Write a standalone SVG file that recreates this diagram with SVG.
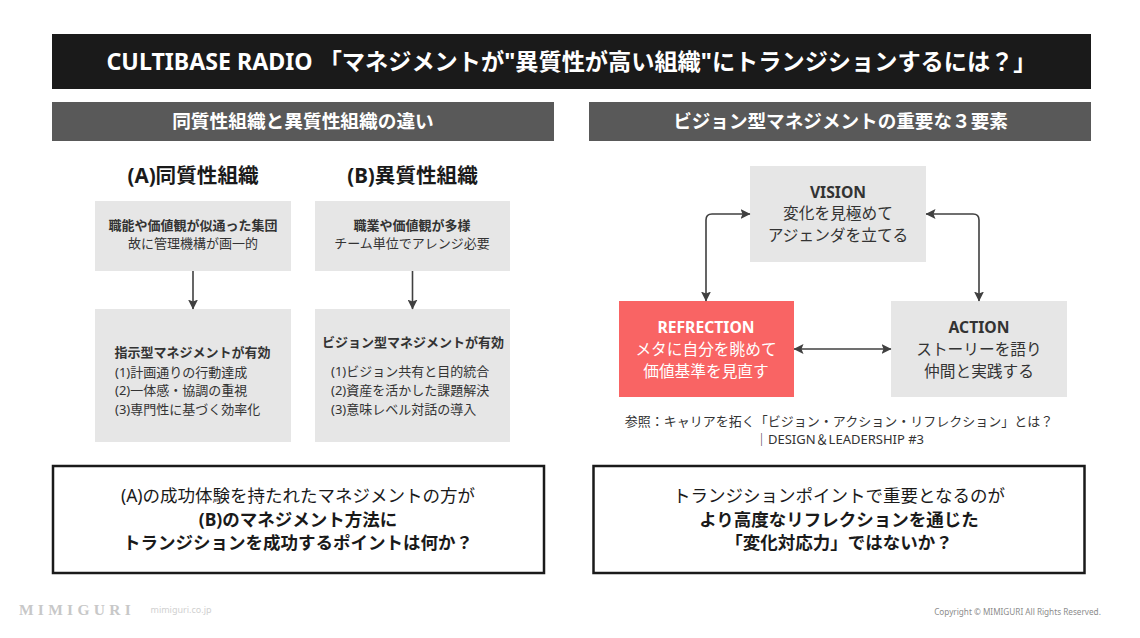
<svg xmlns="http://www.w3.org/2000/svg" width="1140" height="638" viewBox="0 0 1140 638">
<defs>
<marker id="ah" viewBox="0 0 10 10" refX="9.5" refY="5" markerWidth="10" markerHeight="10" markerUnits="userSpaceOnUse" orient="auto-start-reverse"><path d="M0 0L10 5L0 10L2 5Z" fill="#404040"/></marker>
</defs>
<style>
text{font-family:"Noto Sans","Noto Sans CJK JP",sans-serif;text-anchor:middle;fill:#333}
.b{font-weight:700}
.w{fill:#fff}
.t{font-size:13px}
.m{font-size:15.7px}
.g{fill:#e6e6e6}
.q{font-size:17.5px;fill:#1a1a1a}
.f{fill:#fff;stroke:#1a1a1a;stroke-width:2.5}
.c{fill:none;stroke:#404040;stroke-width:1.6;marker-end:url(#ah)}
.d{marker-start:url(#ah)}
</style>
<rect width="1140" height="638" fill="#fff"/>
<g id="title"><rect x="52" y="34" width="1039" height="55" fill="#1a1a1a"/><text class="b w" x="571.500" y="70" font-size="23.200">CULTIBASE RADIO 「マネジメントが"異質性が高い組織"にトランジションするには？」</text></g>
<g id="head-left"><rect x="52" y="102" width="502" height="39" fill="#595959"/><text class="b w" x="303" y="128" font-size="18.700">同質性組織と異質性組織の違い</text></g>
<g id="head-right"><rect x="589" y="102" width="502" height="39" fill="#595959"/><text class="b w" x="840.500" y="128" font-size="18.600">ビジョン型マネジメントの重要な３要素</text></g>
<g id="label-a"><text class="b" x="193" y="183" font-size="20.600" style="fill:#1a1a1a">(A)同質性組織</text></g>
<g id="label-b"><text class="b" x="412.500" y="183" font-size="20.600" style="fill:#1a1a1a">(B)異質性組織</text></g>
<g id="a1"><rect class="g" x="95" y="201" width="196" height="70"/><text class="t b" x="193" y="230">職能や価値観が似通った集団</text><text class="t" x="193" y="248">故に管理機構が画一的</text></g>
<g id="b1"><rect class="g" x="315" y="201" width="195" height="70"/><text class="t b" x="412" y="230">職業や価値観が多様</text><text class="t" x="412" y="248">チーム単位でアレンジ必要</text></g>
<g id="a2"><rect class="g" x="95" y="309" width="196" height="133"/><text class="t b" x="192.500" y="357">指示型マネジメントが有効</text><text class="t" x="115" y="377" style="text-anchor:start">(1)計画通りの行動達成</text><text class="t" x="115" y="395" style="text-anchor:start">(2)一体感・協調の重視</text><text class="t" x="115" y="414" style="text-anchor:start">(3)専門性に基づく効率化</text></g>
<g id="b2"><rect class="g" x="315" y="309" width="195" height="133"/><text class="t b" x="413" y="347">ビジョン型マネジメントが有効</text><text class="t" x="331" y="376" style="text-anchor:start">(1)ビジョン共有と目的統合</text><text class="t" x="331" y="395" style="text-anchor:start">(2)資産を活かした課題解決</text><text class="t" x="331" y="414" style="text-anchor:start">(3)意味レベル対話の導入</text></g>
<g id="vision"><rect class="g" x="750" y="166" width="176" height="96"/><text class="m b" x="838" y="198">VISION</text><text class="m" x="838" y="219">変化を見極めて</text><text class="m" x="838" y="241">アジェンダを立てる</text></g>
<g id="refrection"><rect x="619" y="301" width="175" height="96" fill="#f96464"/><text class="m b w" x="706" y="333">REFRECTION</text><text class="m w" x="706" y="355">メタに自分を眺めて</text><text class="m w" x="706" y="377">価値基準を見直す</text></g>
<g id="action"><rect class="g" x="891" y="301" width="176" height="96"/><text class="m b" x="979" y="333">ACTION</text><text class="m" x="979" y="355">ストーリーを語り</text><text class="m" x="979" y="377">仲間と実践する</text></g>
<g id="connectors">
<path class="c" d="M193 271V309"/>
<path class="c" d="M412.500 271V309"/>
<path class="c d" d="M706 301V220Q706 214 712 214H750"/>
<path class="c d" d="M979 301V220Q979 214 973 214H926"/>
<path class="c d" d="M794 349H891"/>
</g>
<g id="reference"><text x="839" y="426" font-size="13">参照：キャリアを拓く「ビジョン・アクション・リフレクション」とは？</text><text x="839.500" y="444" font-size="13">｜DESIGN＆LEADERSHIP #3</text></g>
<g id="note-left"><rect class="f" x="53" y="466" width="491" height="107"/><text class="q" x="298" y="502">(A)の成功体験を持たれたマネジメントの方が</text><text class="q b" x="298" y="526">(B)のマネジメント方法に</text><text class="q b" x="298" y="549">トランジションを成功するポイントは何か？</text></g>
<g id="note-right"><rect class="f" x="593.500" y="466" width="491" height="107"/><text class="q" x="839" y="502">トランジションポイントで重要となるのが</text><text class="q b" x="839" y="526">より高度なリフレクションを通じた</text><text class="q b" x="839" y="549">「変化対応力」ではないか？</text></g>
<g id="footer"><text x="77" y="615" font-size="15.500" letter-spacing="4.300" style="fill:#c8c8c8;font-family:'Liberation Serif',serif;font-weight:700">MIMIGURI</text><text x="181" y="613" font-size="9" style="fill:#d0d0d0">mimiguri.co.jp</text><text x="1017.500" y="615" font-size="8.200" style="fill:#8c8c8c">Copyright © MIMIGURI All Rights Reserved.</text></g>
</svg>
